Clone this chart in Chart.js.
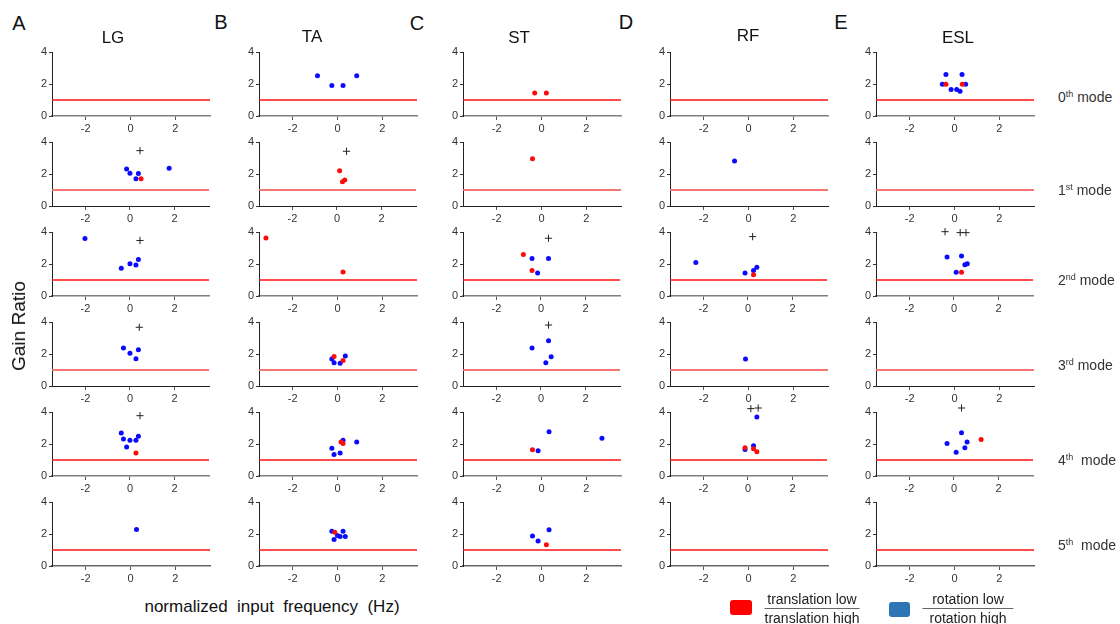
<!DOCTYPE html>
<html>
<head>
<meta charset="utf-8">
<script src="https://cdn.jsdelivr.net/npm/chart.js@4/dist/chart.umd.min.js"></script>
<style>
  html, body { margin: 0; padding: 0; background: #fff; }
  body { position: relative; width: 1120px; height: 624px; overflow: hidden;
         font-family: "Liberation Sans", Arial, sans-serif; color: #111; }
  .lbl { position: absolute; white-space: nowrap; transform: translate(-50%, -50%); }
  .letter { font-size: 20px; }
  .title { font-size: 17px; }
  .mode { position: absolute; white-space: nowrap; font-size: 14px; color: #333; transform: translateY(-50%); }
  .mode sup { font-size: 9px; vertical-align: 5px; line-height: 0; }
  .frac { position: absolute; text-align: center; font-size: 14px; color: #222; transform: translateX(-50%); line-height: 16px; }
  .frac .num { border-bottom: 1.5px solid #666; padding: 0 2px 1px; }
  .frac .den { padding-top: 1px; }
  .swatch { position: absolute; border-radius: 3px; }
  canvas { position: absolute; }
</style>
</head>
<body>
<script>
// ---- Panel layout -------------------------------------------------------
const muscles = ['LG', 'TA', 'ST', 'RF', 'ESL'];
const panelLetters = ['A', 'B', 'C', 'D', 'E'];
const modeNames = [['0', 'th', ' mode'], ['1', 'st', ' mode'], ['2', 'nd', ' mode'],
                   ['3', 'rd', ' mode'], ['4', 'th', '&nbsp; mode'], ['5', 'th', '&nbsp; mode']];
const xTicks = [-2, 0, 2];
const yTicks = [0, 2, 4];
const xRange = [-3.5, 3.55];
const yRange = [0, 4];
const unityGain = 1;

// ---- Gain ratios: [mode, normalized frequency (Hz), gain ratio] ----------
const LG_translation = [[1, 0.5, 1.70], [4, 0.27, 1.43]];
const LG_rotation = [
  [1, -0.15, 2.32], [1, 0.0, 2.05], [1, 0.38, 2.03], [1, 0.27, 1.70], [1, 1.76, 2.36],
  [2, -2.02, 3.59], [2, -0.39, 1.74], [2, 0.0, 2.01], [2, 0.27, 1.93], [2, 0.38, 2.28],
  [3, -0.29, 2.38], [3, 0.0, 2.04], [3, 0.38, 2.27], [3, 0.27, 1.71],
  [4, -0.39, 2.69], [4, -0.29, 2.32], [4, 0.0, 2.24], [4, -0.15, 1.82], [4, 0.27, 2.24], [4, 0.38, 2.49],
  [5, 0.27, 2.28]
];
const LG_significant = [[1, 0.45, 3.46], [2, 0.45, 3.47], [3, 0.42, 3.67], [4, 0.45, 3.77]];

const TA_translation = [
  [1, 0.12, 2.20], [1, 0.25, 1.51], [1, 0.35, 1.62],
  [2, -3.19, 3.63], [2, 0.25, 1.50],
  [3, -0.15, 1.85], [3, 0.25, 1.60],
  [4, 0.16, 2.13], [4, 0.25, 2.03],
  [5, -0.12, 2.11]
];
const TA_rotation = [
  [0, -0.89, 2.51], [0, -0.25, 1.91], [0, 0.25, 1.91], [0, 0.86, 2.51],
  [3, -0.25, 1.69], [3, -0.15, 1.46], [3, 0.12, 1.42], [3, 0.35, 1.88],
  [4, -0.25, 1.74], [4, -0.15, 1.35], [4, 0.12, 1.43], [4, 0.25, 2.24], [4, 0.86, 2.13],
  [5, -0.25, 2.17], [5, 0.0, 1.91], [5, 0.12, 1.85], [5, -0.15, 1.66], [5, 0.25, 2.17], [5, 0.35, 1.85]
];
const TA_significant = [[1, 0.43, 3.42]];

const ST_translation = [
  [0, -0.30, 1.43], [0, 0.22, 1.43],
  [1, -0.40, 2.96],
  [2, -0.79, 2.60], [2, -0.40, 1.60],
  [4, -0.40, 1.64],
  [5, 0.22, 1.33]
];
const ST_rotation = [
  [2, -0.40, 2.34], [2, 0.34, 2.34], [2, -0.15, 1.44],
  [3, -0.40, 2.38], [3, 0.34, 2.83], [3, 0.46, 1.83], [3, 0.22, 1.46],
  [4, -0.15, 1.58], [4, 0.34, 2.76], [4, 2.70, 2.36],
  [5, -0.40, 1.87], [5, -0.15, 1.56], [5, 0.34, 2.26]
];
const ST_significant = [[2, 0.34, 3.61], [3, 0.34, 3.81]];

const RF_translation = [[2, 0.25, 1.33], [4, -0.13, 1.76], [4, 0.25, 1.70], [4, 0.40, 1.51]];
const RF_rotation = [
  [1, -0.62, 2.82],
  [2, -2.34, 2.09], [2, -0.13, 1.44], [2, 0.25, 1.60], [2, 0.40, 1.80],
  [3, -0.13, 1.69],
  [4, -0.13, 1.66], [4, 0.25, 1.89], [4, 0.40, 3.69]
];
const RF_significant = [[2, 0.21, 3.71], [4, 0.13, 4.21], [4, 0.46, 4.25]];

const ESL_translation = [[0, -0.38, 1.99], [0, 0.35, 1.99], [2, 0.34, 1.48], [4, 1.22, 2.28]];
const ESL_rotation = [
  [0, -0.54, 1.99], [0, -0.38, 2.59], [0, -0.15, 1.66], [0, 0.10, 1.66], [0, 0.25, 1.55], [0, 0.34, 2.59], [0, 0.50, 1.99],
  [2, -0.31, 2.44], [2, 0.34, 2.50], [2, 0.10, 1.48], [2, 0.49, 1.95], [2, 0.60, 2.01],
  [4, -0.31, 2.03], [4, 0.34, 2.71], [4, 0.59, 2.13], [4, 0.10, 1.49], [4, 0.49, 1.76]
];
const ESL_significant = [[2, -0.40, 4.02], [2, 0.28, 3.96], [2, 0.54, 3.96], [4, 0.34, 4.25]];

const seriesByMuscle = {
  LG:  { translation: LG_translation,  rotation: LG_rotation,  significant: LG_significant },
  TA:  { translation: TA_translation,  rotation: TA_rotation,  significant: TA_significant },
  ST:  { translation: ST_translation,  rotation: ST_rotation,  significant: ST_significant },
  RF:  { translation: RF_translation,  rotation: RF_rotation,  significant: RF_significant },
  ESL: { translation: ESL_translation, rotation: ESL_rotation, significant: ESL_significant }
};

// ---- Geometry & styling --------------------------------------------------
const axisLeft = [52, 259, 463, 670, 876];      // y-axis position of each column
const rowTop = [52, 142, 232, 322, 412, 502];    // top of each plot area
const plotW = 158, plotH = 64;
const LW = 24, TP = 16, RP = 4, BH = 22;
const refLineStyle = [
  { color: '#ff1010', width: 1.5 }, { color: 'rgba(245,110,110,0.95)', width: 2 },
  { color: '#ff1010', width: 1.5 }, { color: 'rgba(245,110,110,0.95)', width: 2 },
  { color: '#ff1010', width: 1.5 }, { color: '#ff1010', width: 1.5 }
];
const xAxisStyle = [
  { color: '#808080', width: 1.5 }, { color: '#222', width: 1 },
  { color: '#808080', width: 1.5 }, { color: '#222', width: 1 },
  { color: '#808080', width: 1.5 }, { color: '#666', width: 1.5 }
];

Chart.defaults.font.family = '"Liberation Sans", Arial, sans-serif';
Chart.defaults.font.size = 11;
Chart.defaults.color = '#333';

function pick(rows, mode) {
  return rows.filter(p => p[0] === mode).map(p => ({ x: p[1], y: p[2] }));
}

function addText(html, cls, x, y, extra) {
  const d = document.createElement('div');
  d.className = cls;
  d.innerHTML = html;
  d.style.left = x + 'px';
  d.style.top = y + 'px';
  if (extra) Object.assign(d.style, extra);
  document.body.appendChild(d);
  return d;
}

function makePanel(c, r) {
  const s = seriesByMuscle[muscles[c]];
  const W = LW + plotW + RP, H = TP + plotH + BH;
  const canvas = document.createElement('canvas');
  canvas.width = W; canvas.height = H;
  canvas.style.left = (axisLeft[c] - LW) + 'px';
  canvas.style.top = (rowTop[r] - TP) + 'px';
  canvas.style.width = W + 'px';
  canvas.style.height = H + 'px';
  document.body.appendChild(canvas);

  const ref = refLineStyle[r], xa = xAxisStyle[r];
  new Chart(canvas, {
    type: 'scatter',
    data: {
      datasets: [
        { type: 'line', data: [{ x: xRange[0], y: unityGain }, { x: xRange[1], y: unityGain }],
          borderColor: ref.color, borderWidth: ref.width, pointRadius: 0, order: 4 },
        { data: pick(s.rotation, r), backgroundColor: '#0a0aff', borderWidth: 0,
          pointRadius: 2.5, order: 3 },
        { data: pick(s.translation, r), backgroundColor: '#ff0a0a', borderWidth: 0,
          pointRadius: 2.5, order: 2 },
        { data: pick(s.significant, r), pointStyle: 'cross', pointRadius: 3.6,
          borderColor: '#222', borderWidth: 1, clip: false, order: 1 }
      ]
    },
    options: {
      responsive: false, animation: false, devicePixelRatio: 1,
      layout: { padding: { left: 0, right: RP, top: TP, bottom: 0 } },
      plugins: { legend: { display: false }, tooltip: { enabled: false } },
      events: [],
      scales: {
        x: {
          type: 'linear', min: xRange[0], max: xRange[1],
          afterBuildTicks: sc => { sc.ticks = xTicks.map(v => ({ value: v })); },
          afterFit: sc => { sc.height = BH; },
          grid: { drawOnChartArea: false, drawTicks: true, tickLength: 4, tickColor: '#555' },
          border: { color: xa.color, width: xa.width },
          ticks: { padding: 2, maxRotation: 0, autoSkip: false, color: '#333' }
        },
        y: {
          type: 'linear', min: yRange[0], max: yRange[1],
          afterBuildTicks: sc => { sc.ticks = yTicks.map(v => ({ value: v })); },
          afterFit: sc => { sc.width = LW; },
          grid: { drawOnChartArea: false, drawTicks: true, tickLength: 3, tickColor: '#333' },
          border: { color: '#222', width: 1 },
          ticks: { padding: 2, color: '#333' }
        }
      }
    }
  });
}

for (let c = 0; c < muscles.length; c++) {
  for (let r = 0; r < modeNames.length; r++) makePanel(c, r);
}

// ---- Labels --------------------------------------------------------------
const letterPos = [[19, 23], [221, 22], [417, 23], [626, 22], [841, 22]];
const titlePos = [[113, 38], [312, 37], [519, 38], [748, 36], [958, 38]];
panelLetters.forEach((t, i) => addText(t, 'lbl letter', letterPos[i][0], letterPos[i][1]));
muscles.forEach((t, i) => addText(t, 'lbl title', titlePos[i][0], titlePos[i][1]));

addText('Gain Ratio', 'lbl', 19, 326,
  { fontSize: '19px', transform: 'translate(-50%, -50%) rotate(-90deg)' });
addText('normalized&nbsp; input&nbsp; frequency&nbsp; (Hz)', 'lbl', 272, 607, { fontSize: '17px' });

const modeY = [97, 190, 280, 365, 460, 545];
modeNames.forEach((m, i) =>
  addText(`${m[0]}<sup>${m[1]}</sup>${m[2]}`, 'mode', 1058, modeY[i]));

// ---- Legend --------------------------------------------------------------
function swatch(x, y, w, h, color) {
  const d = document.createElement('div');
  d.className = 'swatch';
  Object.assign(d.style, { left: x + 'px', top: y + 'px', width: w + 'px', height: h + 'px', background: color });
  document.body.appendChild(d);
}
swatch(730, 600, 22, 15, '#ff0000');
addText('<div class="num">translation low</div><div class="den">translation high</div>', 'frac', 812, 591);
swatch(889, 602, 21, 15, '#2e75b6');
addText('<div class="num">&nbsp; rotation low &nbsp;</div><div class="den">rotation high</div>', 'frac', 968, 591);
</script>
</body>
</html>
